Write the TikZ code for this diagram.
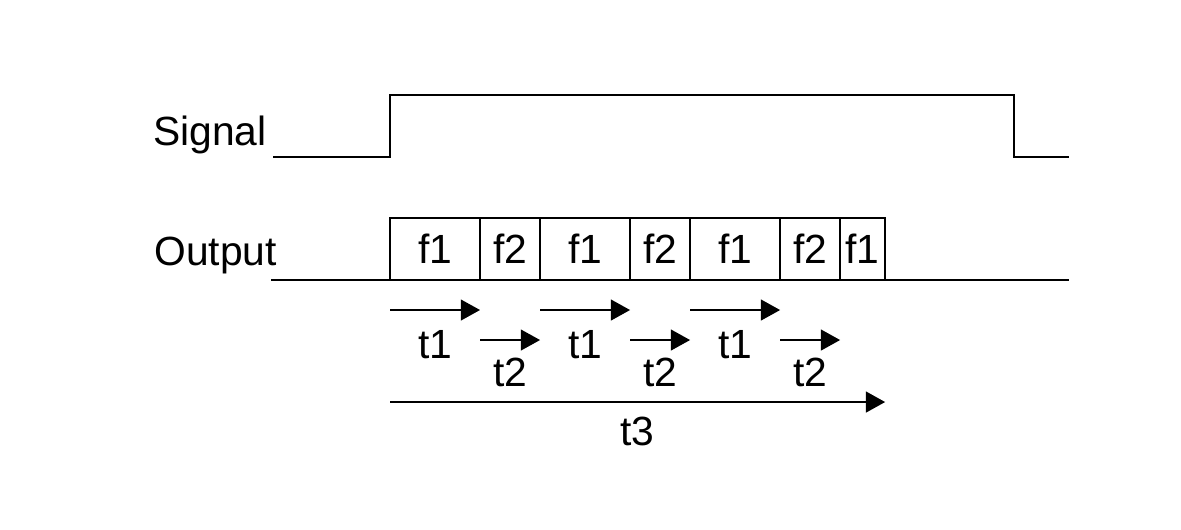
\documentclass[tikz,border=0pt]{standalone}
\usepackage{fontspec}
\setmainfont{Liberation Sans}
\usepackage{tikz}
\usetikzlibrary{arrows.meta, positioning}

\begin{document}
\begin{tikzpicture}[x=0.025cm, y=-0.025cm,
    wave/.style={line width=1.3pt},
    slot/.style={draw, line width=1.1pt, minimum height=1.55cm, inner sep=0pt, outer sep=0pt, font=\fontsize{29}{34}\selectfont},
    span/.style={line width=1.3pt, -{Triangle[length=0.48cm, width=0.52cm]}},
    lbl/.style={font=\fontsize{29}{34}\selectfont, inner sep=0pt}]
  \useasboundingbox (0,0) rectangle (1181,529);

  % Signal waveform
  \coordinate (s0) at (273,157);
  \coordinate (s1) at (390,157);
  \coordinate (s2) at (390,95);
  \coordinate (s3) at (1014,95);
  \coordinate (s4) at (1014,157);
  \coordinate (s5) at (1069,157);
  \draw[wave] (s0) -- (s1) -- (s2) -- (s3) -- (s4) -- (s5);
  \node[lbl, anchor=base east] (signal) at (267,145) {Signal};

  % Output line and slots
  \coordinate (o0) at (271,280);
  \coordinate (o1) at (1069,280);
  \draw[wave] (o0) -- (o1);
  \node[lbl, anchor=base east] (output) at (277,265) {Output};

  \node[slot, anchor=south west, minimum width=2.25cm] (a1) at (390,280) {f1};
  \node[slot, right=0pt of a1, minimum width=1.5cm] (b1) {f2};
  \node[slot, right=0pt of b1, minimum width=2.25cm] (a2) {f1};
  \node[slot, right=0pt of a2, minimum width=1.5cm] (b2) {f2};
  \node[slot, right=0pt of b2, minimum width=2.25cm] (a3) {f1};
  \node[slot, right=0pt of a3, minimum width=1.5cm] (b3) {f2};
  \node[slot, right=0pt of b3, minimum width=1.125cm] (a4) {f1};

  % Durations
  \draw[span] ([yshift=-0.75cm]a1.south west) -- ([yshift=-0.75cm]a1.south east)
    node[midway, below=0.5cm, lbl] {t1};
  \draw[span] ([yshift=-1.5cm]b1.south west) -- ([yshift=-1.5cm]b1.south east)
    node[midway, below=0.42cm, lbl] {t2};
  \draw[span] ([yshift=-0.75cm]a2.south west) -- ([yshift=-0.75cm]a2.south east)
    node[midway, below=0.5cm, lbl] {t1};
  \draw[span] ([yshift=-1.5cm]b2.south west) -- ([yshift=-1.5cm]b2.south east)
    node[midway, below=0.42cm, lbl] {t2};
  \draw[span] ([yshift=-0.75cm]a3.south west) -- ([yshift=-0.75cm]a3.south east)
    node[midway, below=0.5cm, lbl] {t1};
  \draw[span] ([yshift=-1.5cm]b3.south west) -- ([yshift=-1.5cm]b3.south east)
    node[midway, below=0.42cm, lbl] {t2};

  \draw[span] ([yshift=-3.05cm]a1.south west) -- ([yshift=-3.05cm]a4.south east)
    node[midway, below=0.35cm, lbl] {t3};
\end{tikzpicture}
\end{document}
